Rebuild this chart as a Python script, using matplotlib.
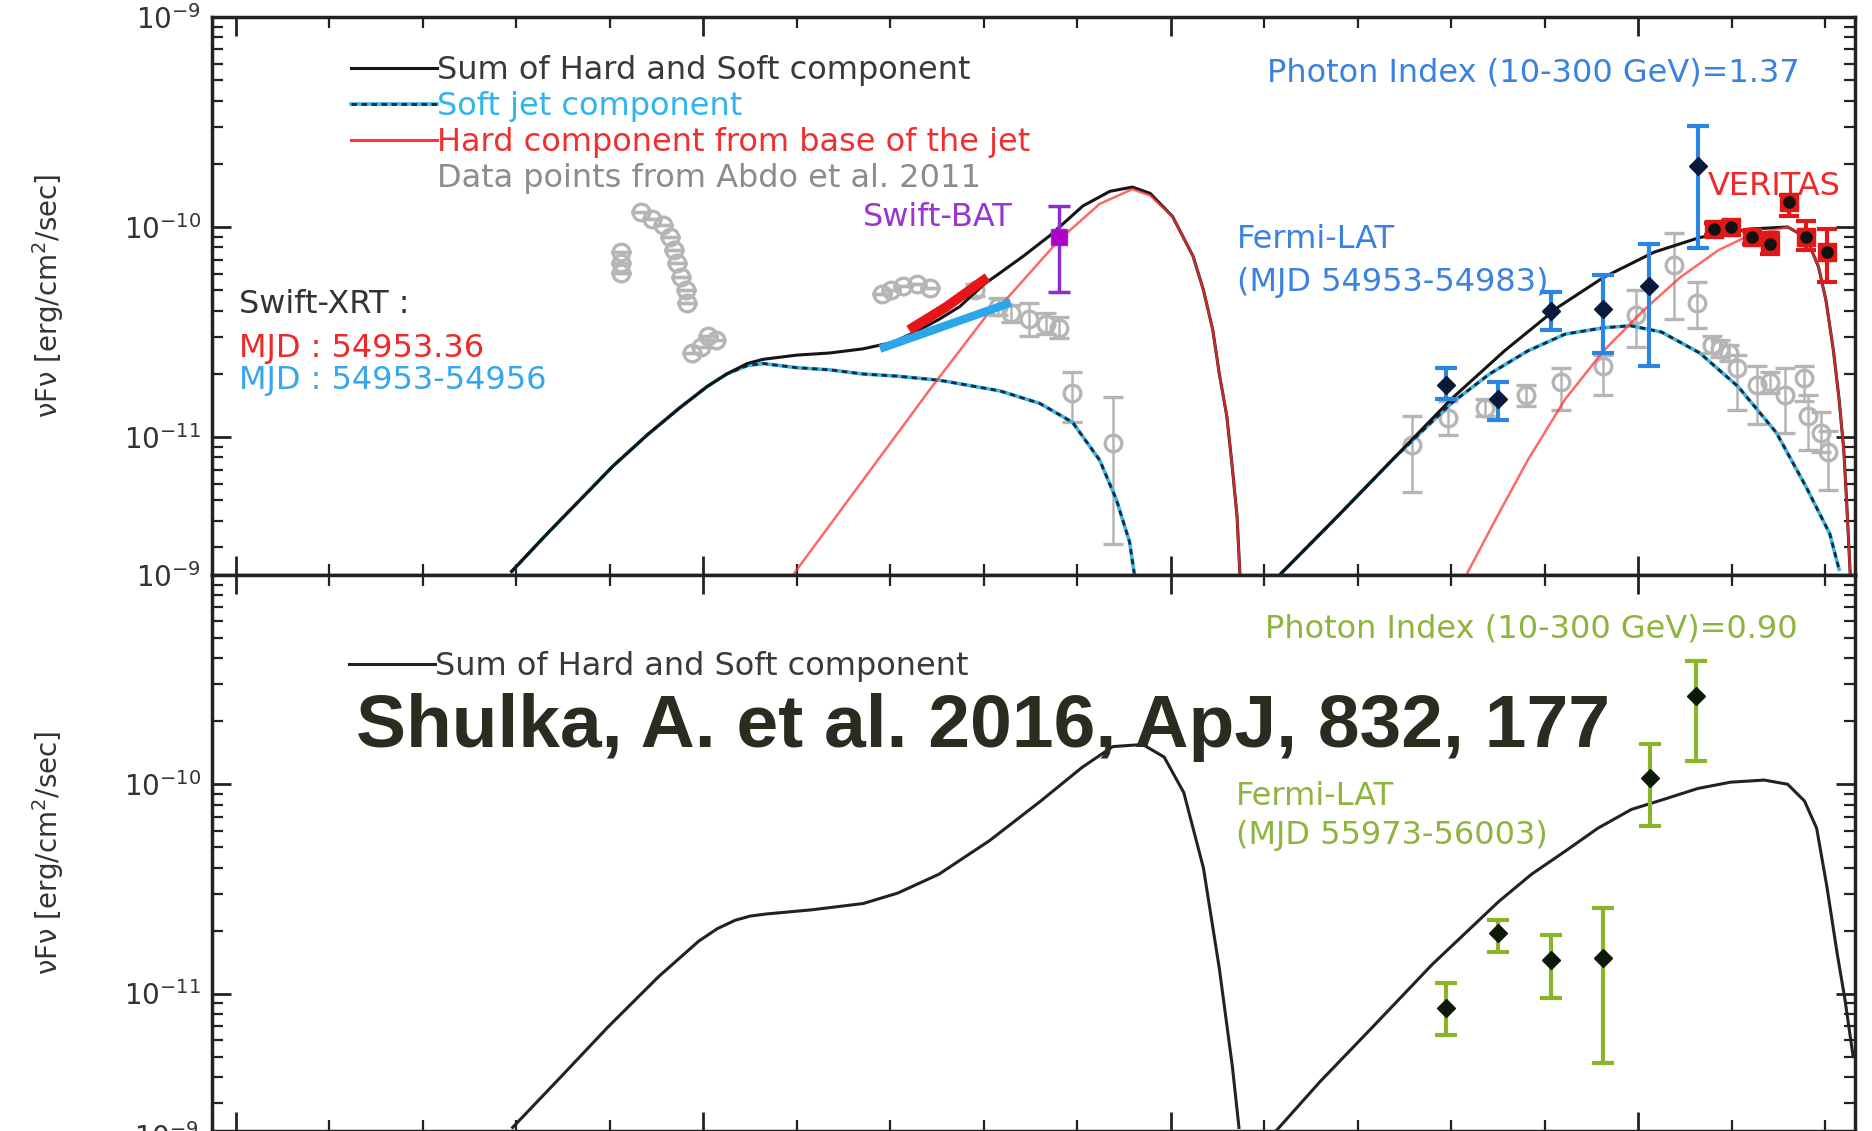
import numpy as np
import matplotlib
matplotlib.use('Agg')
import matplotlib.pyplot as plt
from matplotlib.lines import Line2D
from matplotlib.ticker import FixedLocator, NullFormatter, LogLocator

plt.rcParams['font.family'] = 'DejaVu Sans'

# ---- model curves, log10(nu [Hz]) / log10(nuFnu) ----
# upper panel
sum_lo_x = [12.95, 13.33, 13.68, 14.03, 14.40, 14.75, 15.04, 15.25, 15.47, 15.64, 16.00, 16.35,
            16.71, 17.02, 17.27, 17.52, 17.74, 18.01, 18.17, 18.42, 18.71, 19.06, 19.35, 19.59,
            19.78, 20.02, 20.24, 20.35, 20.45, 20.52, 20.60, 20.66, 20.71, 20.74]
sum_lo_y = [-11.64, -11.46, -11.30, -11.14, -10.99, -10.86, -10.76, -10.70, -10.65, -10.63, -10.61, -10.60,
            -10.58, -10.55, -10.50, -10.44, -10.38, -10.27, -10.22, -10.14, -10.04, -9.90, -9.83, -9.81,
            -9.84, -9.95, -10.14, -10.30, -10.49, -10.70, -10.90, -11.15, -11.38, -11.65]
sum_hi_x = [21.18, 21.78, 22.39, 23.00, 23.57, 24.15, 24.63, 25.17, 25.66, 26.19, 26.60, 26.80,
            26.93, 27.01, 27.09, 27.15, 27.20, 27.23, 27.27]
sum_hi_y = [-11.65, -11.38, -11.10, -10.82, -10.59, -10.38, -10.24, -10.12, -10.05, -10.01, -10.00, -10.05,
            -10.19, -10.35, -10.59, -10.82, -11.06, -11.30, -11.66]

soft_lo_x = [12.95, 13.33, 13.68, 14.03, 14.40, 14.75, 15.04, 15.25, 15.47, 15.64, 16.00, 16.35,
             16.71, 17.07, 17.53, 18.17, 18.60, 18.95, 19.24, 19.42, 19.56, 19.61]
soft_lo_y = [-11.64, -11.46, -11.30, -11.14, -10.99, -10.86, -10.76, -10.70, -10.66, -10.65, -10.67, -10.68,
             -10.70, -10.71, -10.73, -10.78, -10.84, -10.93, -11.11, -11.30, -11.50, -11.65]
soft_hi_x = [21.18, 21.78, 22.39, 23.00, 23.41, 23.82, 24.22, 24.63, 24.92, 25.25, 25.66, 26.07,
             26.48, 26.80, 27.05, 27.15]
soft_hi_y = [-11.65, -11.38, -11.10, -10.84, -10.70, -10.59, -10.51, -10.48, -10.47, -10.50, -10.60, -10.76,
             -10.98, -11.24, -11.46, -11.63]

hard_lo_x = [15.97, 17.43, 18.05, 18.17, 18.81, 19.24, 19.59, 19.78, 20.02, 20.24, 20.35, 20.45,
             20.52, 20.60, 20.66, 20.71, 20.74]
hard_lo_y = [-11.65, -10.77, -10.41, -10.38, -10.06, -9.89, -9.82, -9.85, -9.95, -10.14, -10.30, -10.49,
             -10.70, -10.90, -11.15, -11.38, -11.65]
hard_hi_x = [23.17, 23.49, 23.82, 24.22, 24.63, 25.05, 25.45, 25.86, 26.19, 26.60, 26.80, 26.93,
             27.01, 27.09, 27.15, 27.20, 27.23, 27.27]
hard_hi_y = [-11.65, -11.38, -11.11, -10.82, -10.59, -10.40, -10.24, -10.11, -10.04, -10.00, -10.05, -10.19,
             -10.35, -10.59, -10.82, -11.06, -11.30, -11.66]

# lower panel
sum2_lo_x = [12.96, 13.43, 13.98, 14.52, 14.95, 15.15, 15.34, 15.50, 15.67, 16.16, 16.71, 17.08,
             17.52, 18.06, 18.61, 19.05, 19.38, 19.70, 19.93, 20.14, 20.35, 20.52, 20.66, 20.73]
sum2_lo_y = [-11.64, -11.42, -11.16, -10.92, -10.75, -10.69, -10.65, -10.63, -10.62, -10.60, -10.57, -10.52,
             -10.43, -10.27, -10.08, -9.92, -9.82, -9.81, -9.87, -10.04, -10.40, -10.88, -11.35, -11.64]
sum2_hi_x = [21.14, 21.60, 22.16, 22.80, 23.51, 23.86, 24.22, 24.57, 24.93, 25.29, 25.64, 25.99,
             26.35, 26.60, 26.78, 26.91, 27.02, 27.13, 27.21, 27.30]
sum2_hi_y = [-11.65, -11.42, -11.16, -10.86, -10.56, -10.43, -10.32, -10.21, -10.12, -10.07, -10.02, -9.99,
             -9.98, -10.00, -10.08, -10.21, -10.49, -10.81, -11.02, -11.30]

# ---- data points ----
abdo_x = [14.12, 14.12, 14.12, 14.33, 14.45, 14.57, 14.64, 14.69, 14.72, 14.76, 14.81, 14.83,
          14.88, 14.97, 15.05, 15.14, 16.91, 17.01, 17.14, 17.29, 17.43, 17.91, 18.15, 18.29,
          18.48, 18.67, 18.81, 18.94, 19.38, 22.58, 22.97, 23.36, 23.80, 24.18, 24.62, 24.98,
          25.38, 25.63, 25.79, 25.88, 25.97, 26.06, 26.27, 26.41, 26.57, 26.77, 26.82, 26.96, 27.03]
abdo_y = [-10.12, -10.17, -10.22, -9.93, -9.96, -9.99, -10.05, -10.11, -10.17, -10.24, -10.30, -10.36,
          -10.60, -10.57, -10.52, -10.54, -10.32, -10.30, -10.28, -10.27, -10.29, -10.30, -10.38, -10.41,
          -10.44, -10.46, -10.48, -10.79, -11.03, -11.04, -10.91, -10.86, -10.80, -10.74, -10.66, -10.42,
          -10.18, -10.36, -10.56, -10.58, -10.60, -10.67, -10.75, -10.74, -10.80, -10.72, -10.90, -10.98, -11.07]
abdo_dn = [0, 0, 0, 0, 0, 0, 0, 0, 0, 0, 0, 0,
           0, 0, 0, 0, 0, 0, 0, 0, 0, 0.03, 0.04, 0.04,
           0.08, 0.05, 0.05, 0.14, 0.48, 0.22, 0.08, 0.04, 0.05, 0.13, 0.14, 0.15,
           0.26, 0.12, 0.04, 0.04, 0.04, 0.20, 0.19, 0.05, 0.18, 0.11, 0.16, 0.09, 0.18]
abdo_up = [0, 0, 0, 0, 0, 0, 0, 0, 0, 0, 0, 0,
           0, 0, 0, 0, 0, 0, 0, 0, 0, 0.03, 0.04, 0.04,
           0.08, 0.05, 0.05, 0.10, 0.22, 0.14, 0.08, 0.04, 0.05, 0.07, 0.05, 0.12,
           0.15, 0.10, 0.04, 0.04, 0.04, 0.06, 0.09, 0.05, 0.13, 0.06, 0.10, 0.10, 0.10]

fermi1_x = [22.94, 23.50, 24.07, 24.62, 25.12, 25.64]
fermi1_y = [-10.75, -10.82, -10.40, -10.39, -10.28, -9.71]
fermi1_lo = [-10.82, -10.92, -10.49, -10.60, -10.66, -10.10]
fermi1_hi = [-10.67, -10.74, -10.31, -10.23, -10.08, -9.52]

ver_x = [25.81, 25.99, 26.22, 26.41, 26.61, 26.80, 27.02]
ver_y = [-10.01, -10.00, -10.05, -10.08, -9.88, -10.05, -10.12]
ver_lo = [-10.04, -10.03, -10.08, -10.13, -9.95, -10.11, -10.26]
ver_hi = [-9.98, -9.97, -10.02, -10.03, -9.85, -9.97, -10.01]

bat_x, bat_y, bat_lo, bat_hi = [18.81], [-10.05], [-10.31], [-9.90]

xrt_red_x = [17.20, 17.60, 18.04]
xrt_red_y = [-10.49, -10.38, -10.24]
xrt_blue_x = [16.89, 18.29]
xrt_blue_y = [-10.58, -10.36]

fermi2_x = [22.95, 23.50, 24.07, 24.62, 25.13, 25.62]
fermi2_y = [-11.07, -10.71, -10.84, -10.83, -9.97, -9.58]
fermi2_lo = [-11.20, -10.80, -11.02, -11.33, -10.20, -9.89]
fermi2_hi = [-10.95, -10.65, -10.72, -10.59, -9.81, -9.41]


def p(a):
    return 10.0 ** np.asarray(a, dtype=float)


def yerr_from(y, lo, hi):
    return [p(y) - p(lo), p(hi) - p(y)]


def style_axes(ax):
    ax.set_xscale('log')
    ax.set_yscale('log')
    ax.set_xlim(10 ** 9.743, 10 ** 27.32)
    ax.set_ylim(10 ** -11.657, 1e-9)
    ax.xaxis.set_major_locator(FixedLocator(10.0 ** np.arange(10, 27, 5)))
    ax.xaxis.set_minor_locator(FixedLocator(10.0 ** np.arange(10, 28)))
    ax.xaxis.set_major_formatter(NullFormatter())
    ax.xaxis.set_minor_formatter(NullFormatter())
    ax.yaxis.set_major_locator(LogLocator(base=10))
    ax.yaxis.set_minor_locator(LogLocator(base=10, subs=np.arange(2, 10)))
    ax.yaxis.set_minor_formatter(NullFormatter())
    ax.tick_params(which='both', direction='in', top=True, right=True, width=2, colors='#222222')
    ax.tick_params(which='major', length=14, labelsize=20, pad=8, labelcolor='#333333')
    ax.tick_params(which='minor', length=8, width=1.6)
    for s in ax.spines.values():
        s.set_linewidth(2.5)
        s.set_color('#222222')
    ax.set_ylabel('νFν [erg/cm$^2$/sec]', fontsize=20, color='#333333')
    ax.yaxis.set_label_coords(-0.089, 0.5)


fig = plt.figure(figsize=(18.72, 11.31), dpi=100)
ax1 = fig.add_axes([0.1132, 0.4916, 0.8777, 0.4934])
ax2 = fig.add_axes([0.1132, 0.0, 0.8777, 0.4916])
style_axes(ax1)
style_axes(ax2)

cyan = '#3bb6e6'
red = '#ff3535'
fs = 23

# upper panel models
for xs, ys in [(soft_lo_x, soft_lo_y), (soft_hi_x, soft_hi_y)]:
    ax1.plot(p(xs), p(ys), color=cyan, lw=2.6, zorder=2)
    ax1.plot(p(xs), p(ys), color='#1a2a40', lw=2.0, ls=(0, (2, 1.6)), zorder=2.1)
for xs, ys in [(sum_lo_x, sum_lo_y), (sum_hi_x, sum_hi_y)]:
    ax1.plot(p(xs), p(ys), color='#151515', lw=2.2, zorder=3)
for xs, ys in [(hard_lo_x, hard_lo_y), (hard_hi_x, hard_hi_y)]:
    ax1.plot(p(xs), p(ys), color=red, lw=1.8, alpha=0.75, zorder=3.1)

# upper panel data
grey = '#b5b5b5'
ax1.errorbar(p(abdo_x), p(abdo_y), yerr=[p(abdo_y) - p(np.subtract(abdo_y, abdo_dn)),
                                         p(np.add(abdo_y, abdo_up)) - p(abdo_y)],
             fmt='o', mfc='none', mec=grey, ecolor=grey, ms=12, mew=2.4,
             capsize=7, elinewidth=1.8, capthick=1.8, zorder=1.5)
ax1.plot(p(xrt_blue_x), p(xrt_blue_y), color='#2aa6ea', lw=6, solid_capstyle='butt', zorder=4)
ax1.plot(p(xrt_red_x), p(xrt_red_y), color='#e8141a', lw=7, solid_capstyle='butt', zorder=4.1)
ax1.errorbar(p(bat_x), p(bat_y), yerr=yerr_from(bat_y, bat_lo, bat_hi), fmt='s',
             mfc='#b000c8', mec='#8a2ed0', ecolor='#8a2ed0', ms=12, elinewidth=2.5,
             capsize=8, capthick=2.5, zorder=5)
ax1.errorbar(p(fermi1_x), p(fermi1_y), yerr=yerr_from(fermi1_y, fermi1_lo, fermi1_hi), fmt='D',
             mfc='#0b1a3a', mec='#0b1a3a', ecolor='#2a86e0', ms=9, elinewidth=3,
             capsize=8, capthick=3, zorder=5)
ax1.errorbar(p(ver_x), p(ver_y), yerr=yerr_from(ver_y, ver_lo, ver_hi), fmt='s',
             mfc='#e01818', mec='#e01818', ecolor='#e01818', ms=13, elinewidth=3,
             capsize=7, capthick=3, zorder=5)
ax1.plot(p(ver_x), p(ver_y), 'o', color='#111111', ms=8, zorder=5.5)

# upper panel legend and labels
soft_h = (Line2D([], [], color=cyan, lw=2.6), Line2D([], [], color='#1a2a40', lw=2.0, ls=(0, (2, 1.6))))
h1 = [Line2D([], [], color='#151515', lw=2.2), soft_h,
      Line2D([], [], color=red, lw=2.2), Line2D([], [], color='none')]
l1 = ['Sum of Hard and Soft component', 'Soft jet component',
      'Hard component from base of the jet', 'Data points from Abdo et al. 2011']
ax1.legend(h1, l1, loc='center left', bbox_to_anchor=(0.0846, 0.807), frameon=False,
           fontsize=fs, handlelength=2.7, handletextpad=0.0, labelspacing=0.16, borderpad=0,
           borderaxespad=0, labelcolor=['#3a3a3a', '#2fb4ee', '#f03030', '#8c8c8c'])

t = ax1.transAxes
ax1.text(0.396, 0.640, 'Swift-BAT', transform=t, color='#9a35d0', fontsize=fs, va='center')
ax1.text(0.0164, 0.484, 'Swift-XRT :', transform=t, color='#333333', fontsize=fs, va='center')
ax1.text(0.0164, 0.405, 'MJD : 54953.36', transform=t, color='#f02828', fontsize=fs, va='center')
ax1.text(0.0164, 0.348, 'MJD : 54953-54956', transform=t, color='#36a6ee', fontsize=fs, va='center')
ax1.text(0.642, 0.900, 'Photon Index (10-300 GeV)=1.37', transform=t, color='#3a82e2', fontsize=fs, va='center')
ax1.text(0.624, 0.602, 'Fermi-LAT', transform=t, color='#3a82e2', fontsize=fs, va='center')
ax1.text(0.624, 0.525, '(MJD 54953-54983)', transform=t, color='#3a82e2', fontsize=fs, va='center')
ax1.text(0.9105, 0.697, 'VERITAS', transform=t, color='#f02828', fontsize=fs, va='center', clip_on=False)

# lower panel
for xs, ys in [(sum2_lo_x, sum2_lo_y), (sum2_hi_x, sum2_hi_y)]:
    ax2.plot(p(xs), p(ys), color='#222222', lw=2.2, zorder=3)
ax2.errorbar(p(fermi2_x), p(fermi2_y), yerr=yerr_from(fermi2_y, fermi2_lo, fermi2_hi), fmt='D',
             mfc='#0e1a08', mec='#0e1a08', ecolor='#8ab42a', ms=9, elinewidth=3,
             capsize=8, capthick=3, zorder=5)
ax2.legend([Line2D([], [], color='#222222', lw=2.2)], ['Sum of Hard and Soft component'],
           loc='center left', bbox_to_anchor=(0.0835, 0.836), frameon=False, fontsize=fs,
           handlelength=2.7, handletextpad=0.0, borderpad=0, borderaxespad=0,
           labelcolor=['#3a3a3a'])
t2 = ax2.transAxes
green = '#8db43c'
ax2.text(0.641, 0.903, 'Photon Index (10-300 GeV)=0.90', transform=t2, color=green, fontsize=fs, va='center')
ax2.text(0.623, 0.601, 'Fermi-LAT', transform=t2, color=green, fontsize=fs, va='center')
ax2.text(0.623, 0.532, '(MJD 55973-56003)', transform=t2, color=green, fontsize=fs, va='center')

fig.text(0.525, 0.357, 'Shulka, A. et al. 2016, ApJ, 832, 177', ha='center', va='center',
         fontsize=54, fontweight='bold', family='Liberation Sans', color='#2b2b1f', zorder=10)
fig.text(0.106, -0.006, r'$\mathdefault{10^{-9}}$', ha='right', va='center', fontsize=20, color='#333333')

fig.savefig('out.png', dpi=100)
